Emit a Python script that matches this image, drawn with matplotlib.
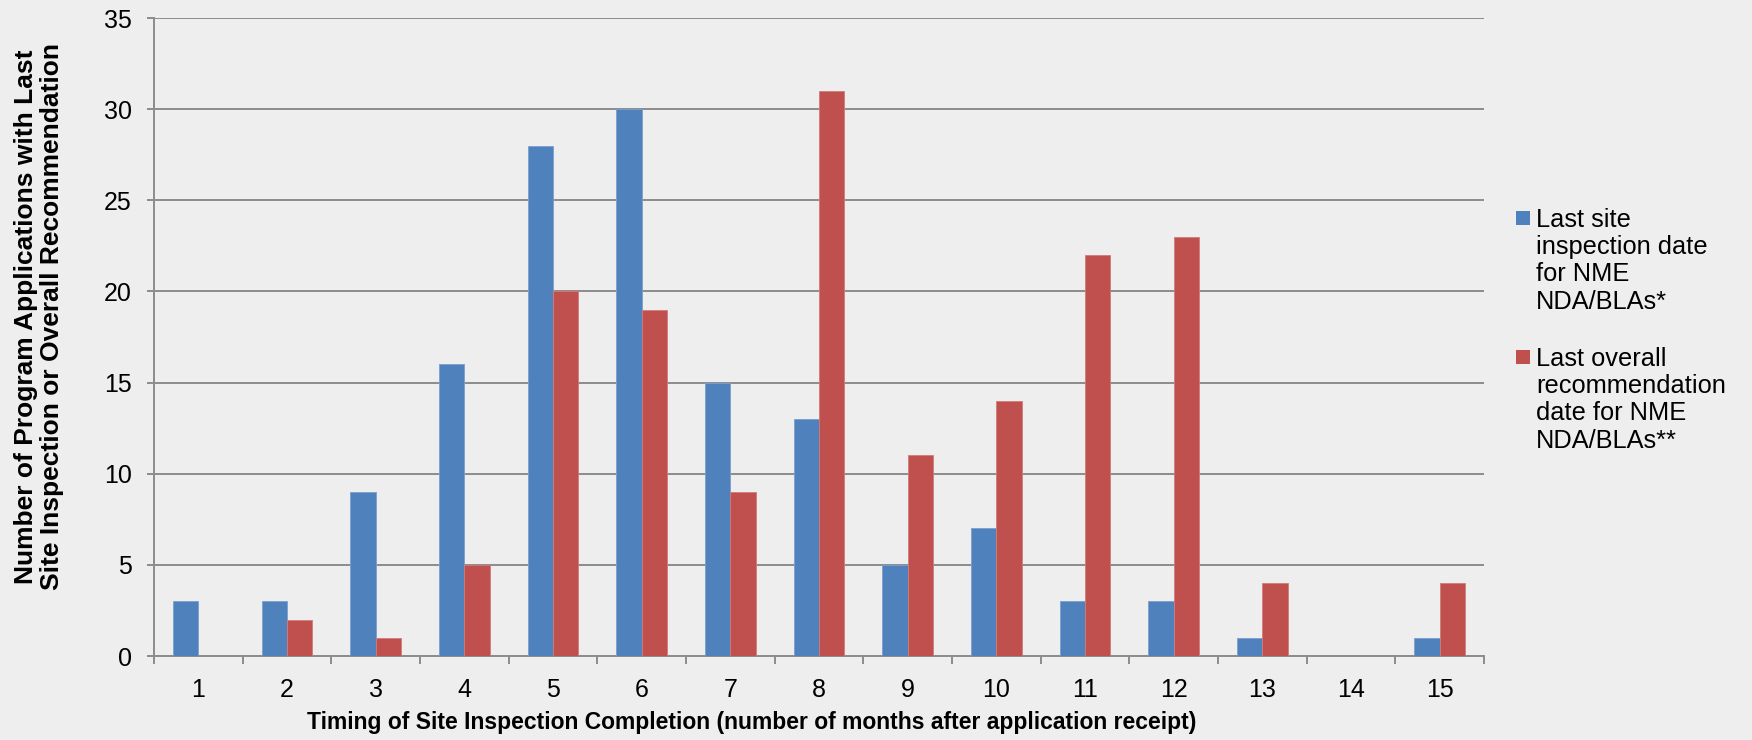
import matplotlib
matplotlib.use("Agg")
import matplotlib.pyplot as plt
import numpy as np
from matplotlib.patches import Rectangle

months = list(range(1, 16))
site_inspection = [3, 3, 9, 16, 28, 30, 15, 13, 5, 7, 3, 3, 1, 0, 1]
overall_recommendation = [0, 2, 1, 5, 20, 19, 9, 31, 11, 14, 22, 23, 4, 0, 4]
series_labels = ["Last site\ninspection date\nfor NME\nNDA/BLAs*",
                 "Last overall\nrecommendation\ndate for NME\nNDA/BLAs**"]
colors = ["#4F81BD", "#C0504D"]
y_ticks = [0, 5, 10, 15, 20, 25, 30, 35]

plt.rcParams['font.family'] = ['Liberation Sans', 'DejaVu Sans']

W, H = 1752, 740
fig = plt.figure(figsize=(W / 100, H / 100), dpi=100)
bg = "#EEEEEE"
fig.patch.set_facecolor(bg)
ax = fig.add_axes([154 / W, 1 - 656 / H, (1484 - 154) / W, (656 - 18) / H])
ax.set_facecolor(bg)

x = np.arange(len(months))
w = 0.286
ax.bar(x - w / 2, site_inspection, w, color=colors[0], edgecolor="#7A9FCF", linewidth=0.6, zorder=3)
ax.bar(x + w / 2, overall_recommendation, w, color=colors[1], edgecolor="#D27B78", linewidth=0.6, zorder=3)

ax.set_xlim(-0.5, len(months) - 0.5)
ax.set_ylim(0, 35)
ax.set_yticks(y_ticks)
ax.yaxis.grid(True, color="#8C8C8C", linewidth=1.4, zorder=0)
ax.set_axisbelow(True)

ax.set_xticks(np.arange(-0.5, len(months), 1.0))
ax.set_xticklabels([])
ax.set_xticks(x, minor=True)
ax.set_xticklabels([str(m) for m in months], minor=True)
ax.tick_params(axis='x', which='major', length=6, width=1.4, color="#8C8C8C", direction='out')
ax.tick_params(axis='x', which='minor', length=0, pad=15.5, labelsize=18)
ax.tick_params(axis='y', length=5, width=1.4, color="#8C8C8C", pad=11, labelsize=18)

for s in ['top', 'right']:
    ax.spines[s].set_visible(False)
for s in ['left', 'bottom']:
    ax.spines[s].set_color("#8C8C8C")
    ax.spines[s].set_linewidth(1.4)

fig.text(752 / W, 1 - 723 / H,
         "Timing of Site Inspection Completion (number of months after application receipt)",
         ha='center', va='center', fontsize=16.5, fontweight='bold')
fig.text(39 / W, 1 - 317 / H,
         "Number of Program Applications with Last\nSite Inspection or Overall Recommendation",
         ha='center', va='center', rotation=90, fontsize=19, fontweight='bold',
         linespacing=1.15, multialignment='center')

# legend
entries = [(211, 208), (350, 347)]
for (sq_top, txt_top), lab, c in zip(entries, series_labels, colors):
    fig.patches.append(Rectangle((1516 / W, 1 - (sq_top + 14) / H), 14 / W, 14 / H,
                                 transform=fig.transFigure, facecolor=c, edgecolor='none'))
    fig.text(1536 / W, 1 - txt_top / H, lab, ha='left', va='top', fontsize=18.3,
             linespacing=1.17)

fig.savefig("out.png", dpi=100, facecolor=bg)
